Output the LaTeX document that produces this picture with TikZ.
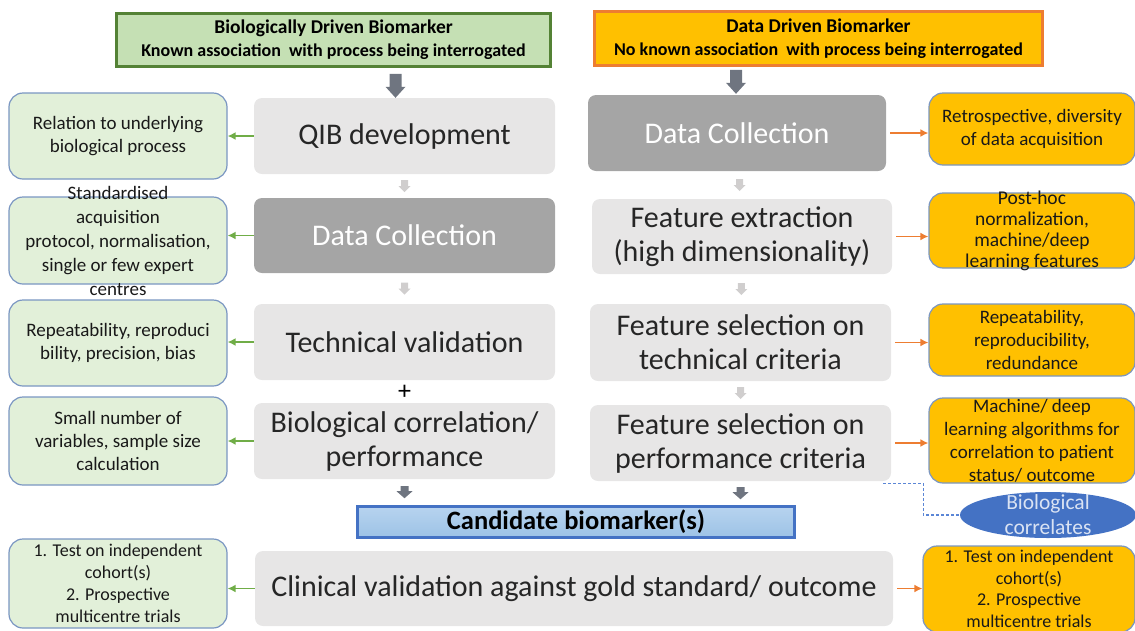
\documentclass[tikz,border=0pt]{standalone}
\usepackage{fontspec}
\setmainfont{Carlito}
\usetikzlibrary{arrows.meta, calc, positioning, shapes.geometric}
\tikzset{>={Latex[length=8pt,width=8pt]}}
\definecolor{hdgreen}{HTML}{C5E0B4}
\definecolor{hdgreenline}{HTML}{548235}
\definecolor{hdorange}{HTML}{FFC000}
\definecolor{hdorangeline}{HTML}{ED7D31}
\definecolor{boxgray}{HTML}{E7E6E6}
\definecolor{dcgray}{HTML}{A5A5A5}
\definecolor{sidegreen}{HTML}{E2F0D9}
\definecolor{sideline}{HTML}{7A96C2}
\definecolor{arrgreen}{HTML}{70AD47}
\definecolor{arrorange}{HTML}{ED7D31}
\definecolor{blkdark}{HTML}{6F7580}
\definecolor{blklight}{HTML}{D0CECE}
\definecolor{candline}{HTML}{4472C4}
\definecolor{candtop}{HTML}{B7D3EF}
\definecolor{candbot}{HTML}{9DC3E6}
\definecolor{corrblue}{HTML}{4472C4}
\definecolor{corrtext}{HTML}{DAE3F3}
\definecolor{dashblue}{HTML}{5B86D6}
\newcommand{\hdtitle}[1]{{\fontsize{19.5}{23}\selectfont #1}}
\tikzset{head/.style = {draw, line width=3pt, align=center, font=\fontsize{18}{23}\selectfont\bfseries}}
\tikzset{stage/.style = {rounded corners=8pt, fill=boxgray, minimum width=301pt, minimum height=76pt,
    align=center, text=black!85, font=\fontsize{30}{34}\selectfont}}
\tikzset{stage-d/.style = {stage, fill=dcgray, text=white}}
\tikzset{side-g/.style = {rounded corners=14pt, draw=sideline, line width=1.2pt, fill=sidegreen,
    minimum width=218pt, minimum height=86pt, inner xsep=2pt, inner ysep=0pt, align=center,
    text=black!90, font=\fontsize{19}{23}\selectfont}}
\tikzset{side-o/.style = {side-g, fill=hdorange, minimum width=206pt}}
\tikzset{conn-g/.style = {->, draw=arrgreen, line width=1.6pt}}
\tikzset{conn-o/.style = {->, draw=arrorange, line width=1.6pt}}
\tikzset{blk-big/.pic = {\fill[pic actions] (-6,-12) -- (6,-12) -- (6,1) -- (10,1) -- (0,12) -- (-10,1) -- (-6,1) -- cycle;}}
\tikzset{blk-mid/.pic = {\fill[pic actions] (-4,-6) -- (4,-6) -- (4,-1) -- (8,-1) -- (0,6) -- (-8,-1) -- (-4,-1) -- cycle;}}
\tikzset{blk-small/.pic = {\fill[pic actions] (-3.5,-6) -- (3.5,-6) -- (3.5,0) -- (6,0) -- (0,6) -- (-6,0) -- (-3.5,0) -- cycle;}}

\begin{document}
\begin{tikzpicture}[x=1pt, y=-1pt]
  \useasboundingbox (0,0) rectangle (1135,630);
  % headers
  \node[head, fill=hdgreen, draw=hdgreenline, minimum width=434pt, minimum height=53pt] (bioHead) at (333.5,40)
    {\hdtitle{Biologically Driven Biomarker}\\Known association\ \ with process being interrogated};
  \node[head, fill=hdorange, draw=hdorangeline, minimum width=448pt, minimum height=54pt] (dataHead) at (818.5,38.5)
    {\hdtitle{Data Driven Biomarker}\\No known association\ \ with process being interrogated};

  % left column
  \path (404.5,136) node[stage] (qib) {QIB development}
      ++(0,99.5) node[stage-d, minimum height=75pt] (dcL) {Data Collection}
      ++(0,106.5) node[stage] (tech) {Technical validation}
      ++(0,50) node[font=\fontsize{26}{30}\selectfont] (plus) {+}
      ++(0,49) node[stage] (bioc) {Biological correlation/\\performance};

  % right column
  \path (737,133) node[stage-d, minimum width=298pt] (dcR) {Data Collection}
        (742,236.5) node[stage, minimum width=300pt, minimum height=75pt] (fext) {Feature extraction\\(high dimensionality)}
        (740.5,342.5) node[stage, minimum height=77pt] (fstech) {Feature selection on\\technical criteria}
        (740.5,443) node[stage] (fsperf) {Feature selection on\\performance criteria};

  \node[draw=candline, line width=2.5pt, top color=candtop, bottom color=candbot, minimum width=437pt,
    minimum height=31pt, inner sep=0pt, font=\fontsize{26.5}{30}\selectfont\bfseries] (cand) at (576,522) {Candidate biomarker(s)};
  \node[stage, minimum width=638pt, minimum height=75pt] (clin) at (574,588.5)
    {Clinical validation against gold standard/ outcome};

  % side notes
  \path (118,136) node[side-g] (g1) {Relation to underlying\\biological process}
        (118,240.5) node[side-g, minimum height=87pt, inner ysep=-14pt, font=\fontsize{19}{24}\selectfont] (g2)
          {Standardised\\acquisition\\protocol, normalisation,\\single or few expert\\centres}
        (118,343) node[side-g] (g3) {Repeatability, reproduci\\bility, precision, bias}
        (118,441) node[side-g, minimum height=88pt] (g4) {Small number of\\variables, sample size\\calculation}
        (118,583.5) node[side-g, minimum height=89pt, font=\fontsize{18}{22}\selectfont] (g5)
          {1. Test on independent\\cohort(s)\\2. Prospective\\multicentre trials};
  \path (1032,129) node[side-o, minimum height=72pt] (o1) {Retrospective, diversity\\of data acquisition}
        (1032,230.5) node[side-o, minimum height=75pt, inner ysep=-4pt, font=\fontsize{19.5}{21}\selectfont] (o2)
          {Post-hoc\\normalization,\\machine/deep\\learning features}
        (1032,340) node[side-o, minimum height=72pt] (o3) {Repeatability,\\reproducibility,\\redundance}
        (1032,440.5) node[side-o, minimum height=85pt, inner ysep=-2pt] (o4)
          {Machine/ deep\\learning algorithms for\\correlation to patient\\status/ outcome}
        (1029,589) node[side-o, minimum width=212pt, minimum height=86pt, font=\fontsize{18}{21.5}\selectfont] (o5)
          {1. Test on independent\\cohort(s)\\2. Prospective\\multicentre trials};

  \node[ellipse, fill=corrblue, minimum width=176pt, minimum height=46pt, inner sep=0pt] (bc) at (1048,515) {};
  \node[align=center, text=corrtext, font=\fontsize{21.5}{25}\selectfont] (bcText) at (bc) {Biological\\correlates};

  % block arrows
  \pic[fill=blkdark] at ($(qib.north)+(-9,-12)$) {blk-big};
  \pic[fill=blkdark] at ($(dcR.north)+(-1,-13)$) {blk-big};
  \foreach \a/\b in {qib/dcL, dcL/tech, dcR/fext, fext/fstech, fstech/fsperf}
  {
    \pic[fill=blklight] at ($(\a.south)!0.5!(\b.north)$) {blk-small};
  }
  \foreach \a in {bioc, fsperf}
  {
    \pic[fill=blkdark] at ($(\a.south)!0.5!(\a.south |- cand.north)$) {blk-mid};
  }

  % connectors
  \foreach \s/\t in {qib/g1, dcL/g2, tech/g3, bioc/g4, clin/g5}
  {
    \draw[conn-g] (\s.west) -- (\s.west -| \t.east);
  }
  \foreach \s/\t in {dcR/o1, fext/o2, fstech/o3, fsperf/o4, clin/o5}
  {
    \draw[conn-o, shorten <=4pt] (\s.east) -- (\s.east -| \t.west);
  }
  \draw[dashblue, line width=1.2pt, dash pattern=on 3pt off 2pt] ($(fsperf.south east)+(-8,2)$) -- ++(40,0) |- (bc.west);
\end{tikzpicture}
\end{document}
